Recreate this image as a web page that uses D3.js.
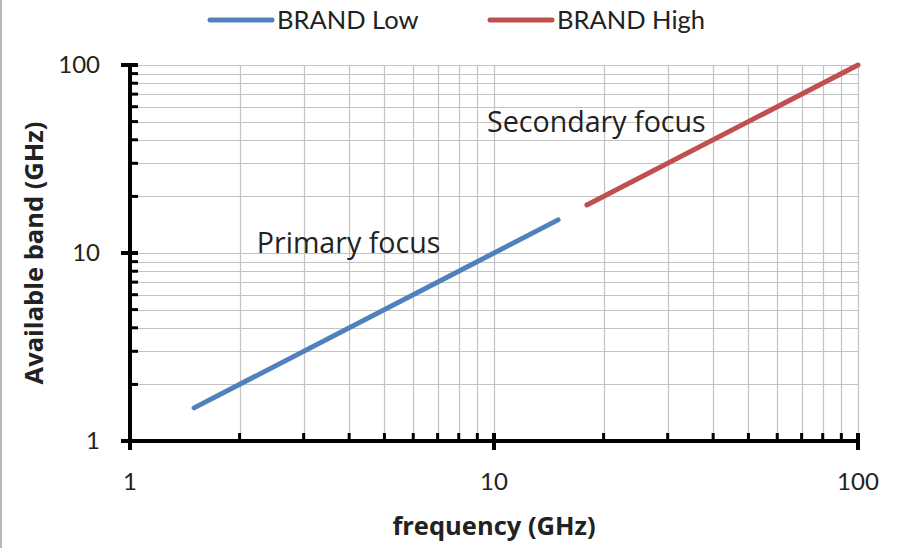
<!DOCTYPE html>
<html>
<head>
<meta charset="utf-8">
<script src="https://cdn.jsdelivr.net/npm/d3@7"></script>
<style>
  html, body { margin: 0; padding: 0; background: #fff; }
  svg { display: block; }
  text { font-family: Lato, "Open Sans", sans-serif; fill: #222; }
  .title, .note { font-family: "Open Sans", Lato, sans-serif; }
</style>
</head>
<body>
<svg id="chart" width="901" height="548"></svg>
<script>
// Series: frequency (GHz) vs available band (GHz)
const seriesNames = ["BRAND Low", "BRAND High"];
const seriesColors = ["#4F81BD", "#C0504D"];
const lowFreq = [1.5, 15];
const lowBand = [1.5, 15];
const highFreq = [18, 100];
const highBand = [18, 100];
const xTickValues = [1, 10, 100];
const yTickValues = [1, 10, 100];
const annotations = [
  { text: "Primary focus", f: 2.23, b: 10 },
  { text: "Secondary focus", f: 9.57, b: 44 }
];

const svg = d3.select("#chart");
const W = 901, H = 548;
const plot = { left: 130, right: 858, top: 65, bottom: 441 };

const x = d3.scaleLog().domain([1, 100]).range([plot.left, plot.right]);
const y = d3.scaleLog().domain([1, 100]).range([plot.bottom, plot.top]);

// outer frame edge on the left
svg.append("line").attr("x1", 1).attr("x2", 1).attr("y1", 0).attr("y2", H)
  .attr("stroke", "#a0a0a0").attr("stroke-width", 1.5);

// all decade subdivisions (1..9 per decade)
function logSteps(lo, hi) {
  const out = [];
  for (let d = lo; d < hi; d *= 10)
    for (let k = 1; k < 10; k++) out.push(d * k);
  out.push(hi);
  return out;
}
const xAll = logSteps(1, 100);
const yAll = logSteps(1, 100);

// grid
const grid = svg.append("g").attr("stroke", "#c3c3c3").attr("stroke-width", 1.2);
grid.selectAll("line.v").data(xAll).join("line")
  .attr("x1", d => Math.round(x(d)) + 0.5).attr("x2", d => Math.round(x(d)) + 0.5)
  .attr("y1", plot.top).attr("y2", plot.bottom);
grid.selectAll("line.h").data(yAll).join("line")
  .attr("y1", d => Math.round(y(d)) + 0.5).attr("y2", d => Math.round(y(d)) + 0.5)
  .attr("x1", plot.left).attr("x2", plot.right);

// series lines
const line = d3.line().x(d => x(d[0])).y(d => y(d[1]));
const series = [
  d3.zip(lowFreq, lowBand),
  d3.zip(highFreq, highBand)
];
svg.append("g").selectAll("path").data(series).join("path")
  .attr("d", line)
  .attr("fill", "none")
  .attr("stroke", (d, i) => seriesColors[i])
  .attr("stroke-width", 5)
  .attr("stroke-linecap", "round");

// axes: thick line, major ticks crossing, minor ticks inward
const axes = svg.append("g").attr("stroke", "#000");
axes.append("line").attr("x1", plot.left).attr("x2", plot.left)
  .attr("y1", plot.top - 2).attr("y2", plot.bottom + 2).attr("stroke-width", 4);
axes.append("line").attr("x1", plot.left - 2).attr("x2", plot.right + 2)
  .attr("y1", plot.bottom).attr("y2", plot.bottom).attr("stroke-width", 4);

const yMinor = yAll.filter(v => !yTickValues.includes(v));
const xMinor = xAll.filter(v => !xTickValues.includes(v));
axes.selectAll("line.ymaj").data(yTickValues).join("line")
  .attr("x1", plot.left - 9).attr("x2", plot.left + 8)
  .attr("y1", d => y(d)).attr("y2", d => y(d)).attr("stroke-width", 4);
axes.selectAll("line.ymin").data(yMinor).join("line")
  .attr("x1", plot.left).attr("x2", plot.left + 8)
  .attr("y1", d => y(d)).attr("y2", d => y(d)).attr("stroke-width", 3);
axes.selectAll("line.xmaj").data(xTickValues).join("line")
  .attr("y1", plot.bottom - 8).attr("y2", plot.bottom + 9)
  .attr("x1", d => x(d)).attr("x2", d => x(d)).attr("stroke-width", 4);
axes.selectAll("line.xmin").data(xMinor).join("line")
  .attr("y1", plot.bottom - 8).attr("y2", plot.bottom)
  .attr("x1", d => x(d)).attr("x2", d => x(d)).attr("stroke-width", 3);

// tick labels
svg.append("g").selectAll("text").data(yTickValues).join("text")
  .attr("x", 100).attr("y", d => y(d)).attr("dy", "0.35em")
  .attr("text-anchor", "end").style("font-size", "24px")
  .text(d3.format("d"));
svg.append("g").selectAll("text").data(xTickValues).join("text")
  .attr("x", d => x(d)).attr("y", 490)
  .attr("text-anchor", "middle").style("font-size", "24px")
  .text(d3.format("d"));

// axis titles
svg.append("text").attr("class", "title").attr("x", 494).attr("y", 535).attr("text-anchor", "middle")
  .style("font-size", "25.5px").style("font-weight", "bold").text("frequency (GHz)");
svg.append("text").attr("class", "title").attr("transform", "translate(43,253) rotate(-90)")
  .attr("text-anchor", "middle")
  .style("font-size", "25.5px").style("font-weight", "bold").text("Available band (GHz)");

// annotations
svg.append("g").selectAll("text").data(annotations).join("text")
  .attr("class", "note")
  .attr("x", d => x(d.f)).attr("y", d => y(d.b))
  .style("font-size", "28.6px").text(d => d.text);

// legend
const legendX = [210, 490];
const lg = svg.append("g").selectAll("g").data(seriesNames).join("g")
  .attr("transform", (d, i) => `translate(${legendX[i]},20)`);
lg.append("line").attr("x1", 0).attr("x2", 62).attr("y1", 0).attr("y2", 0)
  .attr("stroke", (d, i) => seriesColors[i]).attr("stroke-width", 5)
  .attr("stroke-linecap", "round");
lg.append("text").attr("x", 67).attr("y", 0).attr("dy", "0.36em")
  .style("font-size", "25.5px").text(d => d);
</script>
</body>
</html>
